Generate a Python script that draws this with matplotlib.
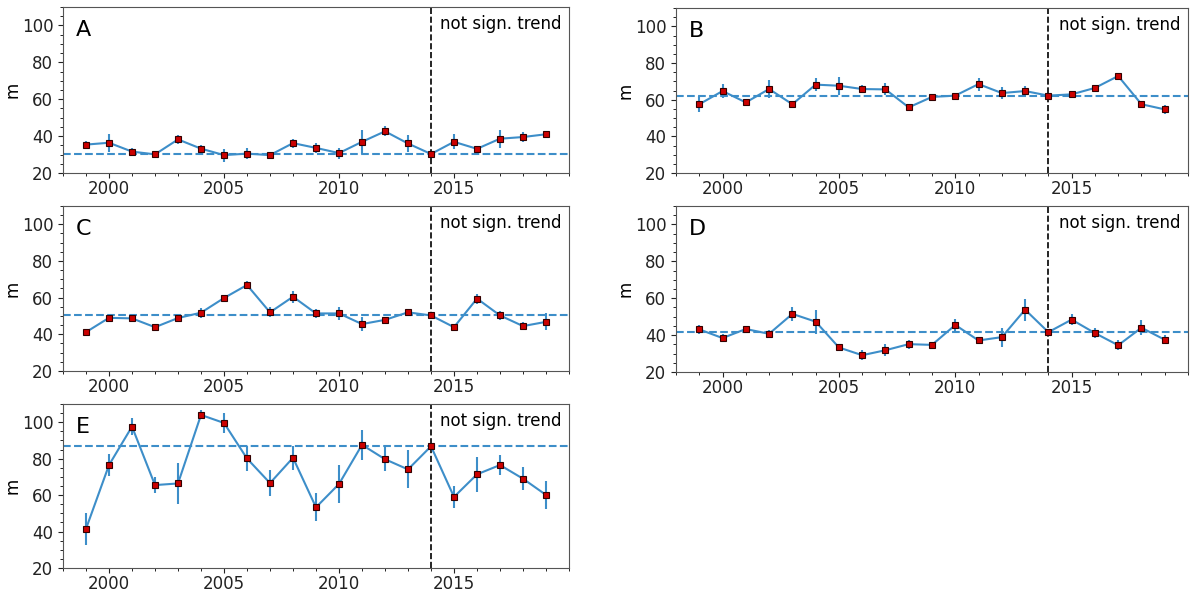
import matplotlib.pyplot as plt
from matplotlib.ticker import MultipleLocator

years = list(range(1999, 2020))

a_vals = [35.4, 36.4, 31.6, 30.1, 38.2, 33.2, 29.7, 30.5, 29.7, 36.2, 33.6,
          30.8, 36.9, 42.6, 36.0, 30.3, 36.9, 33.1, 38.6, 39.5, 41.0]
a_err = [2, 5, 2, 1, 2.5, 2, 3.5, 3, 1, 2.5, 2.5, 3, 6.5, 2.7, 4.5, 1, 4, 1.5, 4.8, 2.7, 1.5]

b_vals = [57.5, 64.7, 58.5, 65.8, 57.5, 68.2, 67.6, 65.8, 65.6, 55.8, 61.5,
          62.2, 68.5, 63.6, 64.7, 62.2, 62.9, 66.4, 72.9, 57.5, 54.7]
b_err = [4.4, 4, 2, 4.7, 2, 3.6, 5, 2, 3.3, 1.5, 1.5, 1.5, 3.5, 3.3, 2.7, 1, 2, 1.5, 1.8, 2, 2.5]

c_vals = [41.2, 49.0, 48.7, 43.9, 48.9, 51.8, 59.8, 66.9, 52.0, 60.5, 51.4,
          51.4, 45.6, 47.9, 52.0, 50.3, 43.9, 59.5, 50.3, 44.5, 46.8]
c_err = [1.5, 2, 2, 2, 2, 2.7, 1.5, 2, 2.7, 3.2, 2.5, 3.5, 4, 1.5, 1.5, 1, 2, 2.7, 2.3, 2, 4.6]

d_vals = [43.1, 38.4, 43.3, 40.7, 51.5, 47.3, 33.3, 29.1, 31.8, 35.1, 34.7,
          45.5, 37.1, 38.9, 53.8, 41.6, 48.4, 41.1, 34.5, 44.0, 37.5]
d_err = [2.3, 2, 1.5, 2.2, 3.6, 6.5, 1.5, 2.7, 3.3, 2.5, 1.5, 3.5, 1.5, 5.2, 6, 1.5, 3, 2.7, 2.7, 4.2, 2.3]

e_vals = [41.5, 76.5, 97.6, 65.5, 66.4, 104.0, 99.6, 80.1, 66.6, 80.5, 53.3,
          66.1, 87.6, 79.7, 74.1, 86.8, 59.0, 71.4, 76.5, 69.0, 60.1]
e_err = [8.7, 6, 4.5, 4.4, 11.4, 2.5, 5.5, 6.6, 7, 6.7, 7.7, 10.5, 8.3, 6.6, 10.4, 1, 6, 9.7, 5.3, 6.2, 7.6]

labels = ["A", "B", "C", "D", "E"]
series = [(a_vals, a_err), (b_vals, b_err), (c_vals, c_err), (d_vals, d_err), (e_vals, e_err)]
break_year = 2014

W, H = 1191, 592
fig = plt.figure(figsize=(W / 100, H / 100), dpi=100)

# axes boxes in pixels: left, top, right, bottom
boxes = [(63, 7, 569, 173), (676, 8, 1188, 173),
         (63, 206, 569, 371), (676, 206, 1188, 372),
         (63, 404, 569, 568)]

line_col = "#3d8ec9"

for lab, (vals, err), (l, t, r, b) in zip(labels, series, boxes):
    ax = fig.add_axes([l / W, 1 - b / H, (r - l) / W, (b - t) / H])
    ax.errorbar(years, vals, yerr=err, color=line_col, lw=1.5, elinewidth=1.5,
                marker="s", ms=4.5, mfc="#cc0000", mec="#330000", mew=0.8, zorder=3)
    ref = vals[years.index(break_year)]
    ax.axhline(ref, color=line_col, ls="--", lw=1.5, zorder=2)
    ax.axvline(break_year, color="black", ls="--", lw=1.2, zorder=2)
    ax.set_xlim(1998, 2020)
    ax.set_ylim(20, 110)
    ax.set_xticks([2000, 2005, 2010, 2015])
    ax.xaxis.set_minor_locator(MultipleLocator(1))
    ax.set_yticks([20, 40, 60, 80, 100])
    ax.yaxis.set_minor_locator(MultipleLocator(5))
    ax.tick_params(labelsize=12, colors="#222222")
    ax.tick_params(axis="x", pad=1.5)
    ax.set_ylabel("m", fontsize=12, labelpad=0)
    for s in ax.spines.values():
        s.set_color("#555555")
    ax.text(0.025, 0.92, lab, transform=ax.transAxes, fontsize=16, va="top", ha="left")
    ax.text(0.985, 0.95, "not sign. trend", transform=ax.transAxes, fontsize=12,
            va="top", ha="right")

fig.savefig("out.png", dpi=100)
